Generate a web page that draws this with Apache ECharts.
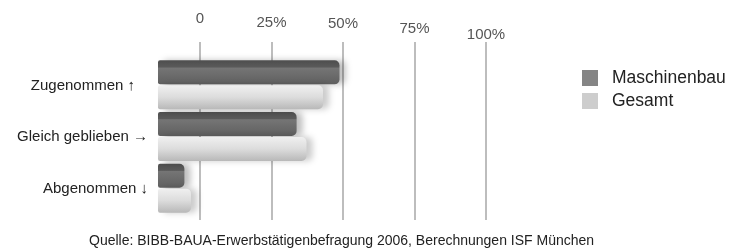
<!DOCTYPE html>
<html>
<head>
<meta charset="utf-8">
<script src="https://cdn.jsdelivr.net/npm/echarts@6/dist/echarts.min.js"></script>
<style>
  html, body { margin: 0; padding: 0; background: #fff; }
  #chart { width: 734px; height: 248px; }
</style>
</head>
<body>
<div id="chart"></div>
<script>
// Werte (Anteil in %), aus der Grafik geschätzt
const categories = ['Zugenommen ↑', 'Gleich geblieben →', 'Abgenommen ↓']
const maschinenbau = [55, 42, 8]
const gesamt = [50, 45, 10]
const tickLabels = ['0', '25%', '50%', '75%', '100%']
const source = 'Quelle: BIBB-BAUA-Erwerbstätigenbefragung 2006, Berechnungen ISF München'

const font = 'Liberation Sans, Arial, sans-serif'

const chart = echarts.init(document.getElementById('chart'))

const darkFill = new echarts.graphic.LinearGradient(0, 0, 0, 1, [
  { offset: 0, color: '#4e4e4e' },
  { offset: 0.28, color: '#5a5a5a' },
  { offset: 0.32, color: '#757575' },
  { offset: 1, color: '#5f5f5f' }
])
const lightFill = new echarts.graphic.LinearGradient(0, 0, 0, 1, [
  { offset: 0, color: '#f0f0f0' },
  { offset: 0.5, color: '#dcdcdc' },
  { offset: 1, color: '#b8b8b8' }
])

chart.setOption({
  animation: false,
  legend: {
    orient: 'vertical',
    left: 582,
    top: 69,
    padding: 0,
    itemWidth: 16,
    itemHeight: 16,
    itemGap: 5,
    icon: 'rect',
    textStyle: { fontFamily: font, fontSize: 17.5, color: '#222', padding: [0, 0, 0, 9] },
    data: [
      { name: 'Maschinenbau', itemStyle: { color: '#858585' } },
      { name: 'Gesamt', itemStyle: { color: '#cdcdcd' } }
    ]
  },
  title: {
    text: source,
    left: 84,
    top: 229,
    textStyle: { fontFamily: font, fontSize: 14, fontWeight: 'normal', color: '#222' }
  },
  grid: [
    // Raster mit Prozentskala
    { left: 200, width: 286, top: 42, bottom: 28 },
    // Balken
    { left: 158, width: 330, top: 59, bottom: 34 }
  ],
  xAxis: [
    {
      gridIndex: 0,
      type: 'value',
      position: 'top',
      min: 0,
      max: 100,
      interval: 25,
      axisLine: { show: false },
      axisTick: { show: false },
      axisLabel: {
        margin: 0,
        fontFamily: font,
        fontSize: 15,
        color: '#555',
        formatter: v => '{t' + v / 25 + '|' + tickLabels[v / 25] + '}',
        rich: {
          t0: { padding: [0, 0, 16, 0] },
          t1: { padding: [0, 0, 12, 0] },
          t2: { padding: [0, 0, 11, 0] },
          t3: { padding: [0, 0, 6, 0] },
          t4: { padding: [0, 0, 0, 0] }
        }
      },
      splitLine: { lineStyle: { color: '#bdbdbd', width: 2 } }
    },
    {
      gridIndex: 1,
      type: 'value',
      min: 0,
      max: 100,
      show: false
    }
  ],
  yAxis: [
    { gridIndex: 0, type: 'category', data: categories, show: false },
    {
      gridIndex: 1,
      type: 'category',
      data: categories,
      inverse: true,
      axisLine: { show: false },
      axisTick: { show: false },
      axisLabel: {
        margin: 10,
        fontFamily: font,
        fontSize: 15,
        color: '#222',
        formatter: (v, i) => '{c' + i + '|' + v + '}',
        rich: {
          c0: { padding: [3, 13, 0, 0] },
          c1: { padding: [0, 0, 0, 0] },
          c2: { padding: [2, 0, 0, 0] }
        }
      }
    }
  ],
  series: [
    {
      name: 'Maschinenbau',
      type: 'bar',
      xAxisIndex: 1,
      yAxisIndex: 1,
      data: maschinenbau,
      barWidth: 24,
      barGap: '4%',
      itemStyle: {
        color: darkFill,
        borderRadius: [2, 5, 5, 2],
        shadowColor: 'rgba(0,0,0,0.25)',
        shadowBlur: 6,
        shadowOffsetX: 6
      }
    },
    {
      name: 'Gesamt',
      type: 'bar',
      xAxisIndex: 1,
      yAxisIndex: 1,
      data: gesamt,
      barWidth: 24,
      itemStyle: {
        color: lightFill,
        borderRadius: [2, 5, 5, 2],
        shadowColor: 'rgba(0,0,0,0.2)',
        shadowBlur: 6,
        shadowOffsetX: 6
      }
    }
  ]
})
</script>
</body>
</html>
